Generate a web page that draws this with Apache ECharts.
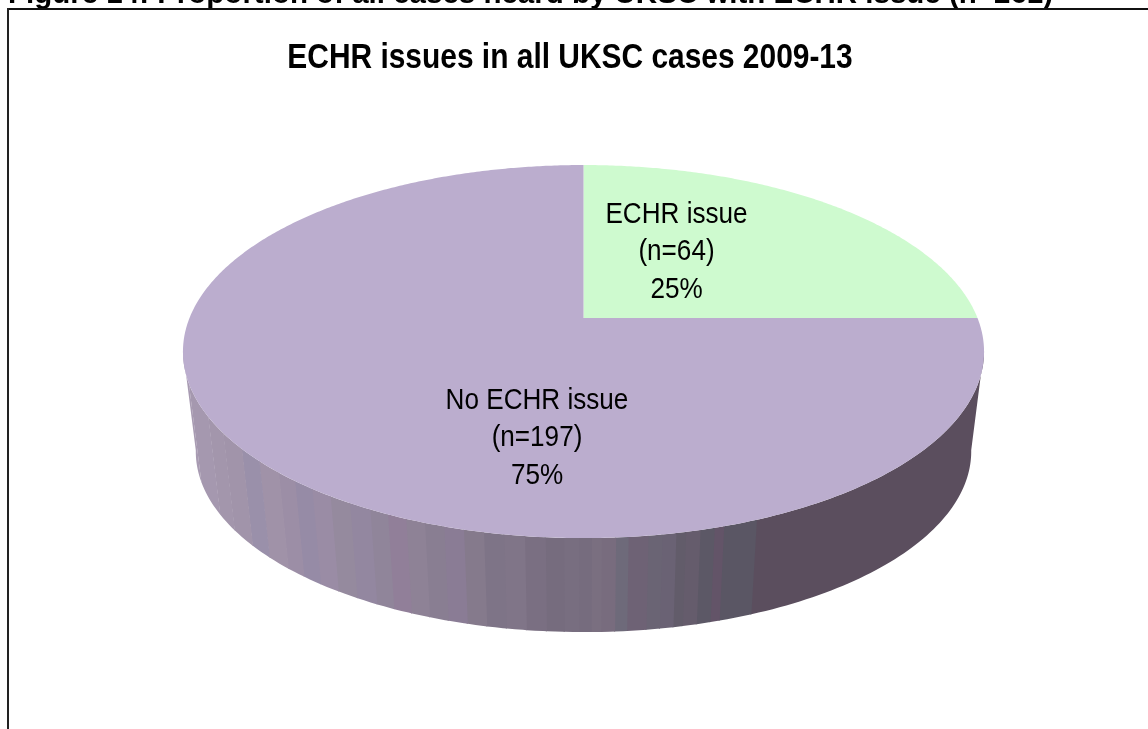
<!DOCTYPE html>
<html><head><meta charset="utf-8">
<style>html,body{margin:0;padding:0;background:#fff;overflow:hidden}#c{width:1148px;height:729px}</style>
<script src="https://cdn.jsdelivr.net/npm/echarts@6/dist/echarts.min.js"></script>
</head><body><div id="c"></div>
<script>
const headerText = 'Figure 14: Proportion of all cases heard by UKSC with ECHR issue (n=261)';
const titleText = 'ECHR issues in all UKSC cases 2009-13';
const categories = ['ECHR issue', 'No ECHR issue'];
const caseCounts = [64, 197];
const percentages = [25, 75];
const sliceColors = ['#CEFACF', '#BBADCE'];
const wallBandDegrees = [100,158.5,162.8,164,165.8,167.6,168.8,170.5,172.2,174.6,176.1,177.8,179,180.5,182.3,184.5,187,189.5,192,194.5,197,199.5,202,204.5,207,210,213,216,219,222,226,230,235,240,250,260];
const wallBandColors = ['#5B4E5E','#5A5664','#635468','#5C5866','#655C6C','#625C6A','#6A6274','#6A6474','#6E6275','#6E6A7A','#786C7E','#7A6F80','#766C7E','#786E80','#766C7E','#7A6F82','#807588','#7E7487','#857A8C','#8A7C95','#897E92','#8E8296','#917F99','#90859A','#9387A0','#958A9E','#9A8CA5','#968BA6','#9C8EA6','#A092A8','#9A90AA','#A194AA','#A396AC','#A598AF','#A89BB2'];

const chart = echarts.init(document.getElementById('c'), null, {renderer:'canvas'});
const pers = 0.18;
const rad = d => d*Math.PI/180;
function rim(g, deg, lower){
  const t = rad(deg), w = 1 + pers*Math.cos(t);
  const s = lower ? g.lowerScale : 1, cy = lower ? g.lowerCy : g.cy;
  return [g.cx + s*g.bx*Math.sin(t)/w, cy - s*g.ay*Math.cos(t)/w];
}
function renderPie(params, api){
  const g = {cx:583.5, cy:318, bx:394, ay:180.5, lowerScale:0.968, lowerCy:419};
  const i = params.dataIndex;
  const pct = api.value(1);
  let start = 0;
  for (let k=0;k<i;k++) start += percentages[k];
  const a0 = start*3.6, a1 = (start+pct)*3.6;
  const children = [];
  if (i === 1) {
    for (let b=0;b<wallBandColors.length;b++){
      const d0 = wallBandDegrees[b], d1 = wallBandDegrees[b+1];
      const end = b === wallBandColors.length-1 ? d1 : d1+0.15;
      const pts = [];
      for (let d=d0; d<d1; d+=1) pts.push(rim(g,d,false));
      pts.push(rim(g,end,false));
      pts.push(rim(g,end,true));
      for (let d=d1; d>d0; d-=1) pts.push(rim(g,d,true));
      pts.push(rim(g,d0,true));
      children.push({type:'polygon', shape:{points:pts}, style:{fill:wallBandColors[b], stroke:null}, silent:true});
    }
  }
  const top = [[g.cx,g.cy]];
  for (let d=a0; d<a1; d+=0.5) top.push(rim(g,d,false));
  top.push(rim(g,a1,false));
  children.push({type:'polygon', shape:{points:top}, style:{fill:api.visual('color')}, silent:true});
  return {type:'group', children};
}
function renderLabels(params, api){
  const i = params.dataIndex;
  const pos = [[676.5,252],[537,438]][i];
  return {type:'text', x:pos[0], y:pos[1], scaleX:0.87, silent:true, z2:10,
    style:{text:categories[i]+'\n(n='+caseCounts[i]+')\n'+percentages[i]+'%',
      fill:'#000', font:'30px "Liberation Sans"', lineHeight:37.6, align:'center', verticalAlign:'middle'}};
}
chart.setOption({
  animation:false,
  backgroundColor:'#fff',
  xAxis:{show:false,type:'value'},
  yAxis:{show:false,type:'value'},
  grid:{left:0,right:0,top:0,bottom:0},
  series:[
    {type:'custom', coordinateSystem:'none', renderItem:renderPie, silent:true, clip:false,
     data:categories.map((c,i)=>({name:c,value:[i,percentages[i]],itemStyle:{color:sliceColors[i]}}))},
    {type:'custom', coordinateSystem:'none', renderItem:renderLabels, silent:true, clip:false,
     data:categories.map((c,i)=>({name:c,value:[i,percentages[i]]}))}
  ],
  graphic:[
    {type:'text', x:8, y:9.5, z:5, style:{text:headerText, fill:'#000', font:'bold 29.5px "Liberation Sans"', verticalAlign:'bottom', align:'left'}},
    {type:'line', z:6, shape:{x1:7,y1:9,x2:1148,y2:9}, style:{stroke:'#111',lineWidth:2}},
    {type:'line', z:6, shape:{x1:8,y1:8,x2:8,y2:729}, style:{stroke:'#222',lineWidth:2}},
    {type:'text', x:570, y:58.5, scaleX:0.867, z:5, style:{text:titleText, fill:'#000', font:'bold 34.5px "Liberation Sans"', align:'center', verticalAlign:'middle'}}
  ]
});
</script></body></html>
